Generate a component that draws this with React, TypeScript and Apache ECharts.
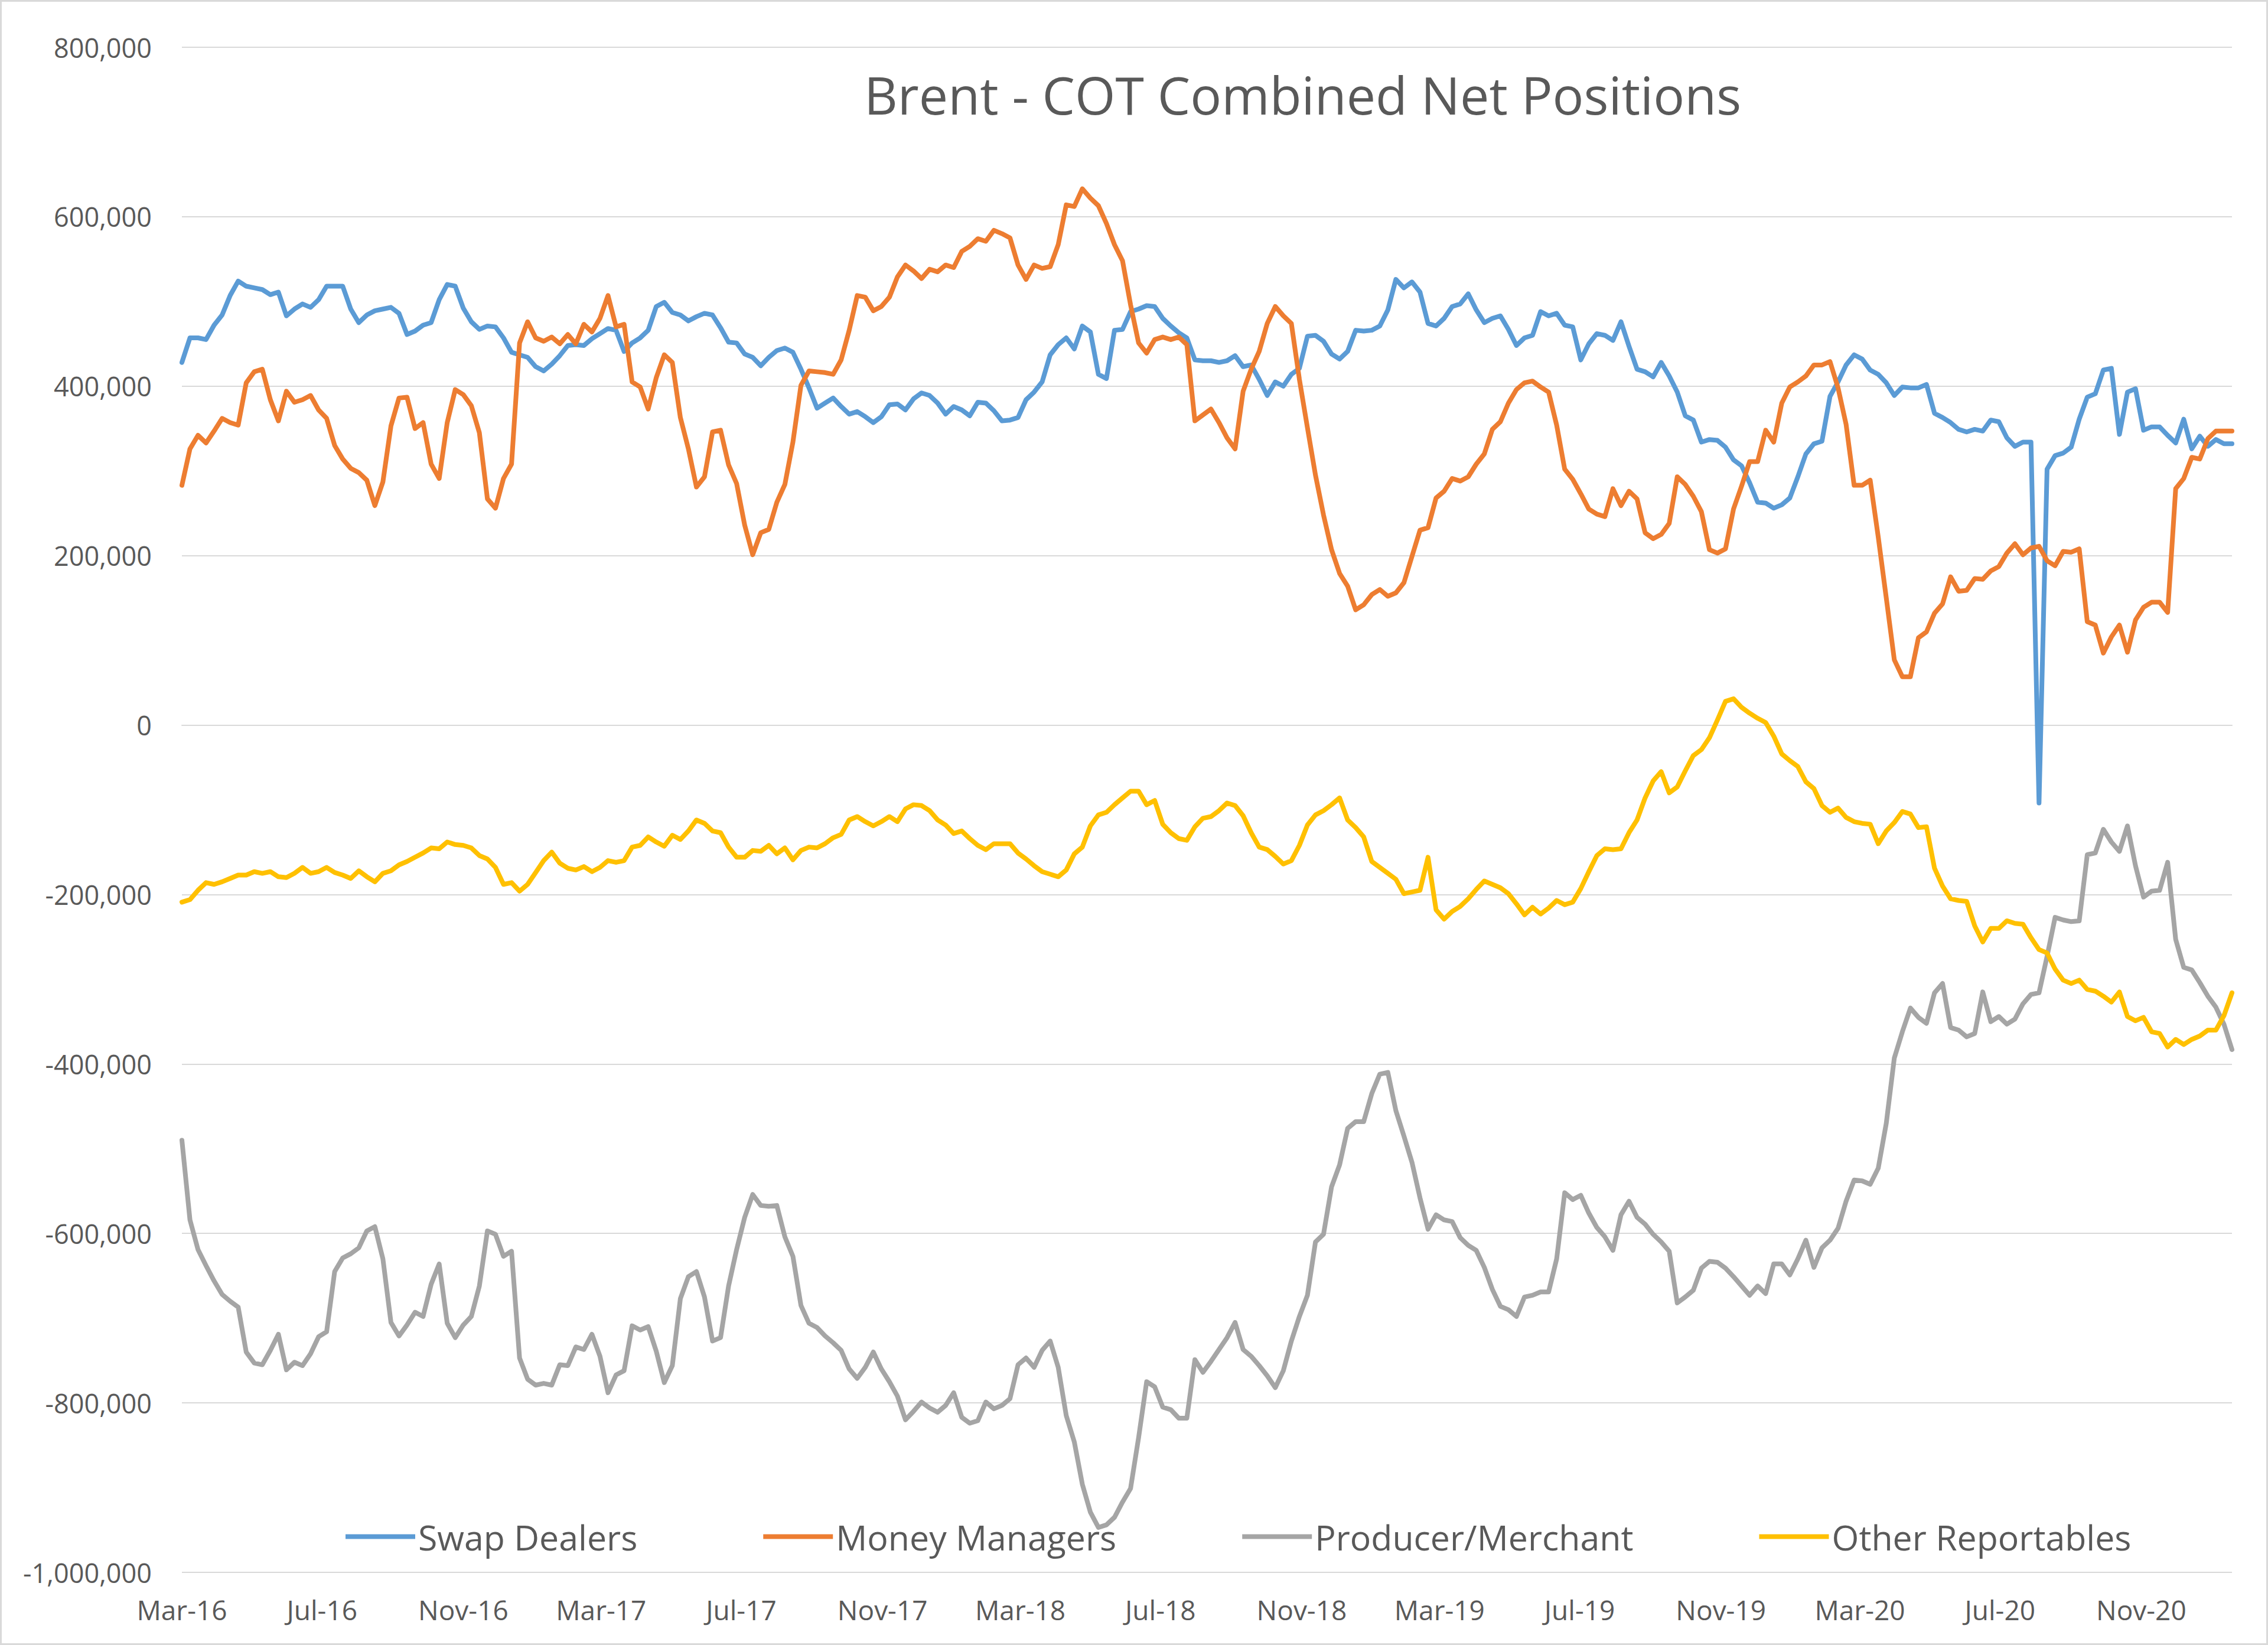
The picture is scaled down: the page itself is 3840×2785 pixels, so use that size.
import React, { useEffect, useRef } from "react";
import * as echarts from "echarts";

// Weekly COT reports, first report 1 Mar 2016, values in thousands of contracts
const FIRST_REPORT = "2016-03-01";

const swapDealers = [
  428, 457, 457, 455, 472, 484, 507, 524, 518, 516,
  514, 508, 511, 483, 491, 497, 493, 502, 518, 518,
  518, 491, 475, 484, 489, 491, 493, 486, 461, 465,
  472, 475, 502, 520, 518, 492, 476, 467, 471, 470,
  457, 440, 437, 434, 423, 418, 426, 436, 448, 449,
  448, 456, 462, 468, 466, 441, 451, 457, 466, 494,
  499, 487, 484, 477, 482, 486, 484, 469, 452, 451,
  438, 434, 424, 434, 442, 445, 440, 420, 398, 374,
  380, 386, 376, 367, 370, 364, 357, 364, 378, 379,
  372, 385, 392, 389, 380, 367, 376, 372, 365, 381,
  380, 371, 359, 360, 363, 384, 393, 405, 437, 449,
  457, 444, 471, 464, 414, 409, 466, 467, 488, 491,
  495, 494, 480, 471, 463, 457, 431, 430, 430, 428,
  430, 436, 423, 425, 408, 389, 405, 400, 414, 421,
  459, 460, 453, 438, 432, 441, 466, 465, 466, 471,
  490, 526, 516, 523, 511, 474, 471, 480, 494, 497,
  509, 490, 475, 480, 483, 467, 448, 457, 460, 488,
  483, 486, 472, 470, 431, 450, 462, 460, 454, 476,
  447, 420, 417, 411, 428, 412, 393, 365, 360, 334,
  337, 336, 328, 313, 306, 286, 263, 262, 256, 260,
  268, 293, 320, 332, 335, 388, 405, 425, 437, 432,
  419, 414, 404, 389, 399, 398, 398, 402, 368, 363,
  357, 349, 346, 349, 347, 360, 358, 339, 329, 334,
  334, -92, 302, 318, 321, 328, 361, 387, 391, 419,
  421, 343, 393, 397, 348, 352, 352, 342, 333, 361,
  326, 341, 329, 337, 332, 332,
];

const moneyManagers = [
  283, 326, 342, 333, 347, 362, 357, 354, 404, 417,
  420, 384, 359, 394, 381, 384, 389, 372, 362, 330,
  314, 303, 298, 289, 259, 287, 353, 386, 387, 350,
  357, 308, 291, 357, 396, 390, 377, 345, 267, 256,
  291, 308, 451, 476, 457, 453, 458, 450, 461, 450,
  473, 464, 480, 507, 470, 473, 405, 399, 373, 410,
  437, 428, 363, 326, 281, 293, 346, 348, 307, 285,
  236, 201, 227, 231, 263, 284, 334, 401, 418, 417,
  416, 414, 431, 466, 507, 505, 489, 494, 505, 529,
  543, 536, 527, 538, 535, 543, 540, 559, 565, 574,
  571, 584, 580, 575, 543, 526, 543, 539, 541, 567,
  614, 612, 633, 622, 613, 592, 567, 548, 496, 451,
  439, 455, 458, 455, 458, 449, 359, 366, 373, 357,
  339, 326, 394, 420, 441, 474, 494, 483, 474, 408,
  351, 295, 248, 207, 179, 164, 136, 142, 154, 160,
  152, 156, 168, 199, 230, 233, 268, 276, 291, 288,
  293, 308, 320, 349, 358, 380, 396, 404, 406, 399,
  393, 354, 302, 290, 273, 255, 249, 246, 279, 259,
  276, 267, 227, 220, 225, 238, 293, 284, 270, 252,
  207, 203, 208, 255, 282, 311, 311, 348, 334, 380,
  399, 405, 412, 425, 425, 429, 398, 355, 283, 283,
  289, 222, 150, 77, 57, 57, 103, 110, 132, 143,
  175, 158, 159, 173, 172, 182, 187, 203, 214, 201,
  209, 211, 194, 188, 205, 204, 208, 122, 118, 85,
  104, 118, 86, 124, 139, 145, 145, 133, 279, 291,
  316, 314, 338, 347, 347, 347,
];

const producerMerchant = [
  -490, -584, -619, -638, -656, -672, -680, -687, -740, -753,
  -755, -738, -719, -761, -752, -756, -742, -722, -716, -645,
  -629, -624, -617, -597, -592, -630, -705, -721, -708, -693,
  -698, -660, -636, -706, -723, -708, -698, -662, -597, -601,
  -627, -621, -747, -772, -779, -777, -779, -755, -756, -734,
  -737, -719, -745, -788, -767, -762, -709, -714, -710, -739,
  -776, -756, -677, -651, -645, -675, -727, -723, -662, -619,
  -581, -554, -567, -568, -567, -604, -627, -685, -706, -711,
  -721, -729, -738, -760, -771, -758, -740, -760, -775, -792,
  -820, -810, -799, -806, -811, -803, -788, -817, -824, -821,
  -799, -807, -803, -795, -755, -747, -758, -738, -727, -758,
  -815, -846, -896, -929, -947, -944, -935, -917, -901, -841,
  -775, -781, -805, -808, -818, -818, -749, -764, -751, -737,
  -723, -705, -737, -745, -756, -768, -782, -762, -727, -698,
  -673, -610, -601, -545, -519, -476, -468, -468, -435, -412,
  -410, -455, -485, -516, -558, -595, -578, -584, -586, -605,
  -614, -620, -640, -666, -686, -690, -698, -675, -673, -669,
  -669, -630, -552, -560, -555, -576, -593, -604, -620, -578,
  -562, -581, -589, -601, -610, -621, -682, -675, -667, -641,
  -633, -634, -641, -651, -662, -673, -662, -671, -636, -636,
  -649, -630, -608, -640, -617, -608, -594, -562, -537, -538,
  -542, -523, -470, -393, -362, -334, -345, -352, -316, -305,
  -357, -360, -368, -364, -315, -350, -344, -353, -347, -329,
  -318, -316, -273, -227, -230, -232, -231, -153, -151, -123,
  -138, -149, -119, -166, -203, -196, -195, -162, -253, -286,
  -289, -304, -320, -333, -353, -383,
];

const otherReportables = [
  -209, -206, -195, -186, -188, -185, -181, -177, -177, -173,
  -175, -173, -179, -180, -175, -168, -175, -173, -168, -174,
  -177, -181, -172, -179, -185, -175, -172, -165, -161, -156,
  -151, -145, -146, -138, -141, -142, -145, -154, -158, -168,
  -188, -186, -196, -188, -174, -160, -150, -163, -169, -171,
  -167, -173, -168, -160, -162, -160, -144, -142, -132, -138,
  -143, -130, -135, -125, -112, -116, -125, -127, -144, -156,
  -156, -148, -149, -142, -152, -145, -159, -148, -144, -145,
  -140, -133, -129, -112, -108, -114, -119, -114, -108, -114,
  -99, -94, -95, -101, -112, -118, -128, -125, -134, -142,
  -147, -140, -140, -140, -151, -158, -166, -173, -176, -179,
  -171, -152, -144, -119, -106, -103, -94, -86, -78, -78,
  -94, -89, -117, -127, -134, -136, -120, -110, -108, -101,
  -92, -95, -107, -127, -144, -147, -155, -164, -160, -142,
  -118, -106, -101, -94, -86, -112, -121, -132, -161, -168,
  -175, -182, -199, -197, -195, -156, -218, -229, -220, -214,
  -205, -194, -184, -188, -192, -199, -211, -224, -215, -223,
  -216, -207, -212, -209, -193, -173, -154, -146, -147, -146,
  -127, -112, -86, -66, -55, -80, -73, -54, -36, -29,
  -15, 6, 28, 31, 21, 14, 8, 3, -13, -34,
  -42, -49, -67, -75, -95, -103, -98, -109, -114, -116,
  -117, -140, -125, -115, -102, -105, -121, -120, -169, -190,
  -205, -207, -208, -237, -256, -240, -240, -231, -234, -235,
  -251, -265, -269, -288, -301, -305, -301, -312, -314, -320,
  -327, -315, -344, -349, -345, -362, -364, -380, -371, -377,
  -371, -367, -360, -360, -343, -316,
];

const seriesNames = ["Swap Dealers", "Money Managers", "Producer/Merchant", "Other Reportables"];
const seriesColors = ["#5B9BD5", "#ED7D31", "#A5A5A5", "#FFC000"];
const xTickLabels = [
  "Mar-16", "Jul-16", "Nov-16", "Mar-17", "Jul-17", "Nov-17", "Mar-18", "Jul-18",
  "Nov-18", "Mar-19", "Jul-19", "Nov-19", "Mar-20", "Jul-20", "Nov-20",
];
const yTicks = [800000, 600000, 400000, 200000, 0, -200000, -400000, -600000, -800000, -1000000];

const MONTHS = ["Jan", "Feb", "Mar", "Apr", "May", "Jun", "Jul", "Aug", "Sep", "Oct", "Nov", "Dec"];
const DAY = 86400000;
const FONT = "'Open Sans', 'Noto Sans', sans-serif";
const TEXT = "#595959";
const GRIDC = "#D9D9D9";

function labelTime(l: string) {
  const [m, y] = l.split("-");
  return Date.UTC(2000 + Number(y), MONTHS.indexOf(m), 1);
}

export default function App() {
  const ref = useRef<HTMLDivElement>(null);
  useEffect(() => {
    if (!ref.current) return;
    document.body.style.margin = "0";
    const chart = echarts.init(ref.current, null, { renderer: "svg" });
    const start = Date.parse(FIRST_REPORT + "T00:00:00Z");
    const toSeries = (arr: number[]) => arr.map((v, i) => [start + i * 7 * DAY, v * 1000]);
    const allSeries = [swapDealers, moneyManagers, producerMerchant, otherReportables];
    const lastTime = start + (swapDealers.length - 1) * 7 * DAY;
    const tickTimes = xTickLabels.map(labelTime);

    chart.setOption({
      animation: false,
      backgroundColor: "#FFFFFF",
      color: seriesColors,
      title: {
        text: "Brent - COT Combined Net Positions",
        left: 1458,
        top: 111,
        textStyle: { fontFamily: FONT, fontSize: 88, fontWeight: "normal", color: TEXT },
      },
      legend: {
        data: seriesNames,
        left: 580,
        top: 2567,
        icon: "rect",
        itemWidth: 118,
        itemHeight: 8,
        itemGap: 213,
        textStyle: { fontFamily: FONT, fontSize: 59, color: TEXT },
      },
      grid: { left: 308, right: 61, top: 80, bottom: 123, containLabel: false },
      xAxis: {
        type: "value",
        min: start,
        max: lastTime,
        axisLine: { show: true, lineStyle: { color: GRIDC, width: 2 } },
        axisTick: { show: false },
        splitLine: { show: false },
        axisLabel: {
          customValues: tickTimes,
          margin: 40,
          fontFamily: FONT,
          fontSize: 46,
          color: TEXT,
          formatter: (v: number) => {
            let best = 0;
            tickTimes.forEach((t, k) => {
              if (Math.abs(t - v) < Math.abs(tickTimes[best] - v)) best = k;
            });
            return xTickLabels[best];
          },
        },
      },
      yAxis: {
        type: "value",
        min: yTicks[yTicks.length - 1],
        max: yTicks[0],
        interval: 200000,
        axisLine: { show: false },
        axisTick: { show: false },
        splitLine: { show: true, lineStyle: { color: GRIDC, width: 2 } },
        axisLabel: {
          margin: 51,
          fontFamily: FONT,
          fontSize: 45,
          color: TEXT,
          formatter: (v: number) => v.toLocaleString("en-US"),
        },
      },
      graphic: [
        {
          type: "rect",
          shape: { x: 1.5, y: 1.5, width: 3837, height: 2782 },
          style: { fill: "none", stroke: GRIDC, lineWidth: 3 },
          silent: true,
        },
      ],
      series: allSeries.map((arr, k) => ({
        name: seriesNames[k],
        type: "line",
        data: toSeries(arr),
        showSymbol: false,
        symbol: "none",
        lineStyle: { width: 8, color: seriesColors[k], cap: "round", join: "round" },
        itemStyle: { color: seriesColors[k] },
      })),
    });
    return () => chart.dispose();
  }, []);
  return (
    <div
      ref={ref}
      style={{ position: "fixed", left: 0, top: 0, width: 3840, height: 2785, background: "#fff" }}
    />
  );
}
